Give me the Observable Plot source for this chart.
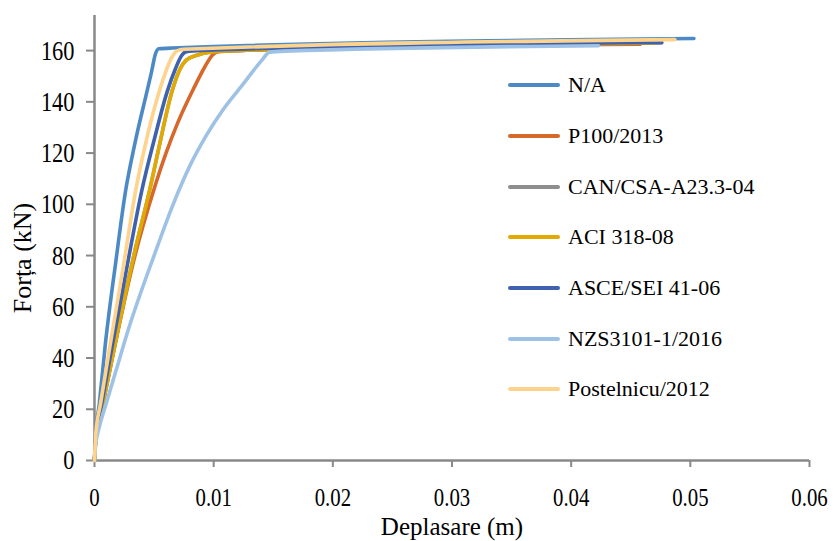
<!DOCTYPE html>
<html>
<head>
<meta charset="utf-8">
<script src="https://cdn.jsdelivr.net/npm/d3@7"></script>
<script src="https://cdn.jsdelivr.net/npm/@observablehq/plot@0.6"></script>
<style>
  html, body { margin: 0; padding: 0; background: #fff; }
  #wrap { position: relative; width: 836px; height: 541px; font-family: "Liberation Serif", "Times New Roman", serif; }
  #legend { position: absolute; left: 508px; top: 60px; }
  .row { display: flex; align-items: center; height: 50.7px; }
  .sw { width: 52px; height: 4px; border-radius: 2px; margin-right: 8px; flex: none; }
  .lab { font-size: 22px; color: #000; white-space: nowrap; }
</style>
</head>
<body>
<div id="wrap"></div>
<script>
// Series names and colours
const seriesNames = ["N/A", "P100/2013", "CAN/CSA-A23.3-04", "ACI 318-08", "ASCE/SEI 41-06", "NZS3101-1/2016", "Postelnicu/2012"];
const seriesColors = ["#4C8AC6", "#D6692A", "#8E8E8E", "#E2AA00", "#3E62AE", "#9EC1E6", "#FFD38C"];

// Deplasare (m) / Forța (kN)
const naX = [0, 0.0001, 0.0004, 0.0009, 0.0018, 0.0026, 0.0034, 0.0044, 0.0048, 0.0051, 0.0054, 0.0065, 0.0503];
const naY = [0, 10, 22, 45, 78, 105, 124, 144, 152, 158.5, 160.7, 161, 164.7];

const p100X = [0, 0.0001, 0.0007, 0.0014, 0.0034, 0.0050, 0.0060, 0.0070, 0.0083, 0.0093, 0.0099, 0.0104, 0.0120, 0.0458];
const p100Y = [0, 8, 22, 38, 80, 106, 120, 132, 145, 154, 158.3, 159.6, 160, 162.5];

const canX = [0, 0.0001, 0.0007, 0.0014, 0.0033, 0.0047, 0.0054, 0.0065, 0.0072, 0.0077, 0.0086, 0.0097, 0.0120, 0.0476];
const canY = [0, 8, 22, 38, 80, 107, 122, 144, 153, 156.3, 158.2, 159.4, 160, 163];

const aciX = [0, 0.0001, 0.0007, 0.0014, 0.0033, 0.0047, 0.0054, 0.0065, 0.0072, 0.0077, 0.0086, 0.0097, 0.0120, 0.0470];
const aciY = [0, 8, 22, 38, 80, 107, 122, 144, 153, 156.3, 158.2, 159.4, 160, 163];

const asceX = [0, 0.0001, 0.0006, 0.0013, 0.0029, 0.0040, 0.0050, 0.0061, 0.0068, 0.0073, 0.0077, 0.0090, 0.0476];
const asceY = [0, 9, 22, 40, 80, 106, 125, 144, 153, 158, 159.6, 160.1, 163.2];

const nzsX = [0, 0.0001, 0.0004, 0.0009, 0.0018, 0.0029, 0.0050, 0.0066, 0.0080, 0.0094, 0.0108, 0.0124, 0.0140, 0.0147, 0.0160, 0.0423];
const nzsY = [0, 6, 13, 21, 35, 52, 80, 100, 115, 127, 137, 146.5, 156, 159.4, 159.8, 161.9];

const posX = [0, 0.0001, 0.0005, 0.0012, 0.0025, 0.0034, 0.0043, 0.0053, 0.0060, 0.0065, 0.0069, 0.0075, 0.0487];
const posY = [0, 10, 22, 42, 78, 104, 124, 142, 152, 157.5, 159.8, 160.5, 164.3];

const allX = [naX, p100X, canX, aciX, asceX, nzsX, posX];
const allY = [naY, p100Y, canY, aciY, asceY, nzsY, posY];

const xTicks = [0, 0.01, 0.02, 0.03, 0.04, 0.05, 0.06];
const xTickLabels = ["0", "0.01", "0.02", "0.03", "0.04", "0.05", "0.06"];
const yTicks = [0, 20, 40, 60, 80, 100, 120, 140, 160];
const xTitle = "Deplasare (m)";
const yTitle = "Forța (kN)";

const rows = [];
seriesNames.forEach((name, i) => {
  allX[i].forEach((x, j) => rows.push({series: name, order: i, x, y: allY[i][j]}));
});

const axisColor = "#898989";
const lineMarks = seriesNames.map((name, i) =>
  Plot.line(rows.filter(d => d.series === name), {
    x: "x", y: "y", stroke: seriesColors[i], strokeWidth: 3.6, curve: "monotone-x",
    strokeLinejoin: "round", strokeLinecap: "round"
  })
);

const chart = Plot.plot({
  width: 836,
  height: 541,
  marginLeft: 94,
  marginRight: 27,
  marginTop: 15,
  marginBottom: 81,
  style: {fontFamily: "'Liberation Serif', 'Times New Roman', serif", fontSize: "26px", background: "#fff", color: "#000"},
  x: {domain: [0, 0.06]},
  y: {domain: [0, 173.7]},
  marks: [
    Plot.axisX({ticks: xTicks, tickFormat: d => xTickLabels[xTicks.indexOf(d)], tickSize: 7, tickPadding: 20,
      stroke: axisColor, strokeWidth: 2, fill: "#000", label: null, fontSize: 26}),
    Plot.axisY({ticks: yTicks, tickSize: 8, tickPadding: 12, stroke: axisColor, strokeWidth: 2, fill: "#000",
      label: null, fontSize: 28}),
    Plot.ruleY([0], {stroke: axisColor, strokeWidth: 2.5}),
    Plot.ruleX([0], {stroke: axisColor, strokeWidth: 2.5}),
    ...lineMarks,
    Plot.text([xTitle], {text: d => d, frameAnchor: "bottom", lineAnchor: "middle", textAnchor: "middle", dy: 66, fontSize: 25, fill: "#000"}),
    Plot.text([yTitle], {text: d => d, frameAnchor: "left", textAnchor: "middle", lineAnchor: "middle", rotate: -90, dx: -72, dy: 20, fontSize: 26, fill: "#000"})
  ]
});

const wrap = document.getElementById("wrap");
wrap.appendChild(chart);

// horizontally condensed tick labels, as in the reference; keep each label's anchor point
chart.querySelectorAll('g[aria-label$="tick label"] text').forEach(t => {
  const anchor = getComputedStyle(t).textAnchor || t.getAttribute("text-anchor") || "start";
  const b0 = t.getBBox();
  const len = t.getComputedTextLength();
  t.setAttribute("textLength", (len * 0.8).toFixed(2));
  t.setAttribute("lengthAdjust", "spacingAndGlyphs");
  const b1 = t.getBBox();
  let delta = 0;
  if (anchor === "end") delta = (b0.x + b0.width) - (b1.x + b1.width);
  else if (anchor === "middle") delta = (b0.x + b0.width / 2) - (b1.x + b1.width / 2);
  else delta = b0.x - b1.x;
  if (Math.abs(delta) > 0.01) {
    const x0 = parseFloat(t.getAttribute("x") || "0");
    t.setAttribute("x", (x0 + delta).toFixed(2));
  }
});

const legend = document.createElement("div");
legend.id = "legend";
seriesNames.forEach((name, i) => {
  const r = document.createElement("div");
  r.className = "row";
  const sw = document.createElement("div");
  sw.className = "sw";
  sw.style.background = seriesColors[i];
  const lab = document.createElement("span");
  lab.className = "lab";
  lab.textContent = name;
  r.appendChild(sw); r.appendChild(lab);
  legend.appendChild(r);
});
wrap.appendChild(legend);
</script>
</body>
</html>
